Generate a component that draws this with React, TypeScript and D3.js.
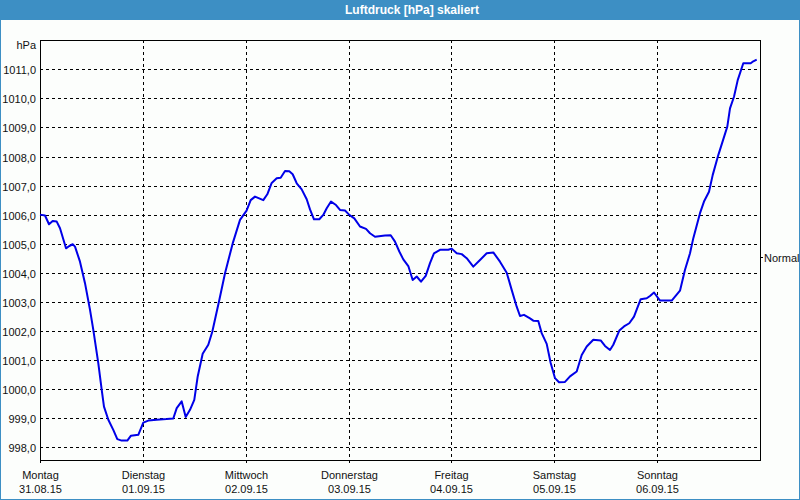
import React from "react";
import * as d3 from "d3";

const hours = [0,1.17,2.1,2.96,3.9,4.67,6.07,6.84,7.63,8.17,9.33,10.5,11.67,12.44,13.6,14.4,14.93,15.94,17.1,18.04,19.06,20.37,21.23,22.94,24.1,25.27,27.23,29.56,31.1,31.9,33.06,34.0,35.0,36.0,36.8,37.96,39.27,40.2,41.84,43.17,44.96,46.67,48.2,49.16,50.17,52.1,53.04,54.06,55.23,56.16,57.17,58.17,58.96,59.9,61.06,62.23,63.0,63.93,65.17,66.1,66.9,67.9,69.07,70.0,71.17,72.17,73.34,74.67,76.07,77.0,78.17,80.5,81.83,82.83,83.84,84.77,85.94,86.96,87.9,88.9,90.0,91.0,91.93,93.33,95.27,96.06,97.23,98.4,99.56,101.1,102.67,104.23,105.77,107.33,108.9,110.06,111.23,112.0,112.93,114.33,115.1,116.27,117.06,118.23,119.16,120.17,121.1,122.5,123.67,125.23,126.4,127.57,129.1,130.83,131.83,133.0,133.77,135.17,136.27,137.5,138.6,140.16,141.57,142.33,143.27,144.67,147.4,149.33,150.5,151.67,152.44,154.0,154.93,156.1,156.96,158.27,159.43,160.37,161.0,161.93,162.8,164.1,165.83,166.44,167.23];
const pressure = [1006.0,1005.97,1005.67,1005.78,1005.76,1005.53,1004.84,1004.92,1004.98,1004.9,1004.38,1003.64,1002.72,1002.03,1000.89,999.97,999.39,998.94,998.59,998.27,998.22,998.22,998.39,998.42,998.84,998.91,998.94,998.96,998.98,999.34,999.57,999.03,999.28,999.62,1000.43,1001.21,1001.52,1001.97,1003.06,1003.98,1005.01,1005.82,1006.14,1006.5,1006.62,1006.5,1006.7,1007.09,1007.25,1007.27,1007.5,1007.49,1007.39,1007.08,1006.87,1006.53,1006.18,1005.84,1005.84,1005.99,1006.22,1006.45,1006.33,1006.16,1006.14,1005.99,1005.87,1005.59,1005.51,1005.36,1005.24,1005.28,1005.29,1005.07,1004.73,1004.46,1004.23,1003.75,1003.87,1003.69,1003.89,1004.33,1004.67,1004.79,1004.79,1004.83,1004.67,1004.64,1004.5,1004.21,1004.44,1004.67,1004.7,1004.38,1004.0,1003.41,1002.83,1002.51,1002.55,1002.43,1002.35,1002.34,1001.92,1001.55,1000.89,1000.37,1000.23,1000.24,1000.43,1000.6,1001.17,1001.46,1001.69,1001.67,1001.48,1001.34,1001.52,1002.01,1002.15,1002.26,1002.49,1003.09,1003.12,1003.2,1003.32,1003.04,1003.04,1003.38,1004.1,1004.67,1005.19,1006.05,1006.45,1006.79,1007.36,1008.05,1008.59,1009.03,1009.66,1010.06,1010.63,1011.21,1011.21,1011.28,1011.34];

const dayNames = ["Montag","Dienstag","Mittwoch","Donnerstag","Freitag","Samstag","Sonntag"];
const dayDates = ["31.08.15","01.09.15","02.09.15","03.09.15","04.09.15","05.09.15","06.09.15"];
const yTicks = [998,999,1000,1001,1002,1003,1004,1005,1006,1007,1008,1009,1010,1011];
const normalValue = 1004.55;
const title = "Luftdruck [hPa] skaliert";
const unit = "hPa";

export default function App() {
  const W = 800, H = 500;
  const left = 40, right = 760, top = 40, bottom = 460;
  const x = d3.scaleLinear().domain([0, 168]).range([left, right]);
  const y = d3.scaleLinear().domain([998, 1011]).range([447, 69.4]);
  const line = d3.line<number>().x((_, i) => x(hours[i])).y((d) => y(d));
  const font = "'Liberation Sans', Arial, sans-serif";
  const fmt = (v: number) => v.toFixed(1).replace(".", ",");
  return (
    <svg width={W} height={H} style={{ position: "absolute", left: 0, top: 0, display: "block" }} fontFamily={font}>
      <rect x={0} y={0} width={W} height={H} fill="#fcfefc" />
      <rect x={0} y={0} width={W} height={20} fill="#3d8fc4" />
      <rect x={0} y={0} width={1} height={H} fill="#3d8fc4" />
      <rect x={W - 1} y={0} width={1} height={H} fill="#3d8fc4" />
      <rect x={0} y={H - 1} width={W} height={1} fill="#3d8fc4" />
      <text x={412} y={14} textAnchor="middle" fill="#fff" fontWeight="bold" fontSize={12}>{title}</text>
      {yTicks.map((t) => (
        <g key={t}>
          <line x1={left} x2={right} y1={Math.round(y(t)) + 0.5} y2={Math.round(y(t)) + 0.5} stroke="#000" strokeDasharray="3,3" />
          <text x={36} y={Math.round(y(t)) + 4.5} textAnchor="end" fontSize={11} fill="#111">{fmt(t)}</text>
        </g>
      ))}
      {dayNames.map((n, i) => {
        const xp = Math.round(x(i * 24)) + 0.5;
        return (
          <g key={n}>
            {i > 0 && <line x1={xp} x2={xp} y1={top} y2={bottom + 3} stroke="#000" strokeDasharray="3,3" />}
            <text x={xp} y={479} textAnchor="middle" fontSize={11} fill="#111">{n}</text>
            <text x={xp} y={493} textAnchor="middle" fontSize={11} fill="#111">{dayDates[i]}</text>
          </g>
        );
      })}
      <line x1={left + 0.5} x2={left + 0.5} y1={bottom} y2={bottom + 3} stroke="#000" />
      <text x={36} y={49} textAnchor="end" fontSize={11} fill="#111">{unit}</text>
      <rect x={left + 0.5} y={top + 0.5} width={right - left} height={bottom - top} fill="none" stroke="#000" />
      <line x1={right} x2={right + 3} y1={Math.round(y(normalValue)) + 0.5} y2={Math.round(y(normalValue)) + 0.5} stroke="#000" />
      <text x={764} y={Math.round(y(normalValue)) + 4.5} fontSize={11} fill="#111">Normal</text>
      <path d={line(pressure) || ""} fill="none" stroke="#0000e8" strokeWidth={2} strokeLinejoin="round" />
    </svg>
  );
}
